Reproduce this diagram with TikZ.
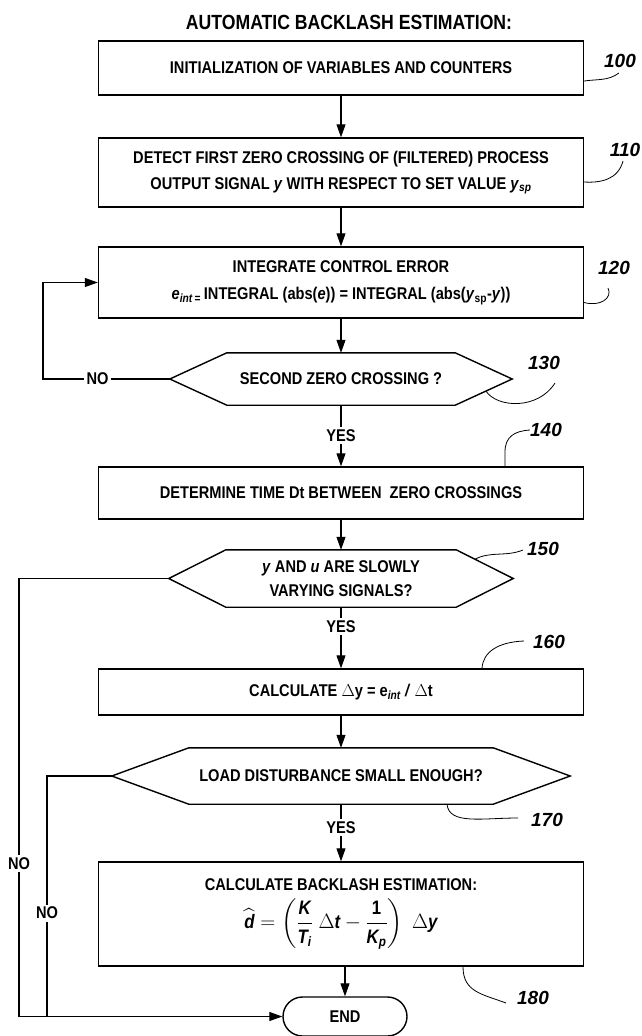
\documentclass[tikz,border=0pt]{standalone}
\usepackage{amsmath}
\usepackage{fontspec}
\setmainfont{Liberation Sans}[FakeStretch=0.86]
\newfontfamily\labfont{Liberation Sans}
\usetikzlibrary{arrows.meta,calc}
\begin{document}
\begin{tikzpicture}[x=1pt,y=-1pt,
  txt/.style={font=\bfseries\fontsize{17}{26}\selectfont, align=center, inner sep=0pt},
  box/.style={txt, draw, line width=1.4pt, minimum width=485pt},
  hexa/.style={txt},
  shp/.style={line width=1.4pt},
  arr/.style={line width=1.1pt, -{Triangle[length=13pt,width=9pt]}},
  ln/.style={line width=1.1pt},
  lead/.style={line width=0.8pt},
  lab/.style={font=\labfont\bfseries\itshape\fontsize{19}{21}\selectfont, inner sep=0pt},
  yn/.style={txt, fill=white, inner sep=2.5pt}]
\useasboundingbox (0,0) rectangle (642,1036);

% title
\node[txt, font=\bfseries\fontsize{20.5}{24}\selectfont] (title) at (349,22) {AUTOMATIC BACKLASH ESTIMATION:};

% boxes
\node[box, minimum height=54pt] (b100) at (341,68) {INITIALIZATION OF VARIABLES AND COUNTERS};
\node[box, minimum height=69pt] (b110) at (341,172.5) {DETECT FIRST ZERO CROSSING OF (FILTERED) PROCESS\\OUTPUT SIGNAL \textit{y} WITH RESPECT TO SET VALUE \textit{y}\textsubscript{\textit{sp}}};
\node[box, minimum height=71pt, font=\bfseries\fontsize{17}{27}\selectfont] (b120) at (341,282.5) {INTEGRATE CONTROL ERROR\\\textit{e}\textsubscript{\textit{int}\,=}\,INTEGRAL (abs(\textit{e})) = INTEGRAL (abs(\textit{y}\textsubscript{sp}-\textit{y}))};

% decision 130
\node[hexa, minimum width=228pt, minimum height=52pt] (d130) at (341,379) {SECOND ZERO CROSSING ?};
\coordinate (d130w) at ($(d130.west)+(-57,0)$);
\coordinate (d130e) at ($(d130.east)+(57,0)$);
\draw[shp] (d130.north west) -- (d130.north east) -- (d130e) -- (d130.south east) -- (d130.south west) -- (d130w) -- cycle;

\node[box, minimum height=52pt] (b140) at (341,493) {DETERMINE TIME Dt BETWEEN\ \ ZERO CROSSINGS};

% decision 150
\node[hexa, minimum width=230pt, minimum height=57pt, font=\bfseries\fontsize{17}{24}\selectfont] (d150) at (341,578.5) {\textit{y} AND \textit{u} ARE SLOWLY\\VARYING SIGNALS?};
\coordinate (d150w) at ($(d150.west)+(-57,0)$);
\coordinate (d150e) at ($(d150.east)+(57,0)$);
\draw[shp] (d150.north west) -- (d150.north east) -- (d150e) -- (d150.south east) -- (d150.south west) -- (d150w) -- cycle;

\node[box, minimum height=46pt] (b160) at (341,692) {CALCULATE $\Delta$y = e\textsubscript{\textit{int}} \textit{/} $\Delta$t};

% decision 170
\node[hexa, minimum width=304pt, minimum height=56pt] (d170) at (341,776) {LOAD DISTURBANCE SMALL ENOUGH?};
\coordinate (d170w) at ($(d170.west)+(-77,0)$);
\coordinate (d170e) at ($(d170.east)+(77,0)$);
\draw[shp] (d170.north west) -- (d170.north east) -- (d170e) -- (d170.south east) -- (d170.south west) -- (d170w) -- cycle;

\node[box, minimum height=104pt] (b180) at (341,914) {CALCULATE BACKLASH ESTIMATION:\\[7pt]
 {\fontsize{19.5}{22}\selectfont $\displaystyle \widehat{\textit{d}} = \left(\frac{\textit{K}}{\textit{T}_{\textit{i}}}\;\Delta \textit{t} - \frac{\text{1}}{\textit{K}_{\textit{p}}}\right)\;\Delta\textit{y}$}};

\node[txt, draw, line width=1.4pt, rounded corners=19.5pt, minimum width=124pt, minimum height=39pt] (end) at (345,1016.5) {END};

% main arrows
\draw[arr] (b100) -- (b110);
\draw[arr] (b110) -- (b120);
\draw[arr] (b120) -- (d130);
\draw[arr] (d130) -- node[yn]{YES} (b140);
\draw[arr] (b140) -- (d150);
\draw[arr] (d150) -- node[yn,pos=0.32]{YES} (b160);
\draw[arr] (b160) -- (d170);
\draw[arr] (d170) -- node[yn,pos=0.41]{YES} (b180);
\draw[arr] (b180.south -| end.north) -- (end.north);

% NO branches
\coordinate (c1) at (43,379);
\draw[arr] (d130w) -- node[yn,pos=0.57]{NO} (c1) |- (b120.west);
\coordinate (c2) at (19,578.5);
\draw[arr] (d150w) -- (c2) |- node[yn,pos=0.325]{NO} (end.west);
\coordinate (c3) at (47,776);
\coordinate (c4) at (47,1016.5);
\draw[ln] (d170w) -- (c3) -- node[yn,pos=0.57]{NO} (c4);

% reference labels
\node[lab] (n100) at (620,61) {100};
\node[lab] (n110) at (625,150) {110};
\node[lab] (n120) at (614,268) {120};
\node[lab] (n130) at (544,363) {130};
\node[lab] (n140) at (546,430) {140};
\node[lab] (n150) at (543,549) {150};
\node[lab] (n160) at (549,642) {160};
\node[lab] (n170) at (547,820) {170};
\node[lab] (n180) at (533,998) {180};

% leaders
\draw[lead] ($(b100.east)+(0,13)$) .. controls (598,79) and (608,81) .. (619,73);
\draw[lead] ($(b110.east)+(0,9.5)$) .. controls (600,183) and (618,180) .. (623,161);
\draw[lead] ($(b120.east)+(0,20)$) .. controls (600,307) and (613,298) .. (608,288);
\draw[lead] ($(d130.south east)!0.54!(d130e)$) .. controls (497,408) and (538,410) .. (555,383);
\draw[lead] (n140.west) .. controls (514,431) and (505,437) .. (505,452) -- ($(b140.north)+(164,0)$);
\draw[lead] ($(d150.north east)!0.33!(d150e)$) .. controls (490,551) and (506,557) .. (523,550);
\draw[lead] ($(b160.north)+(141,0)$) .. controls (483,652) and (498,642) .. (524,641);
\draw[lead] ($(d170.south)+(106,0)$) .. controls (449,825) and (482,818) .. (518,818);
\draw[lead] ($(b180.south)+(122,0)$) .. controls (463,992) and (482,994) .. (506,1003);
\end{tikzpicture}
\end{document}
